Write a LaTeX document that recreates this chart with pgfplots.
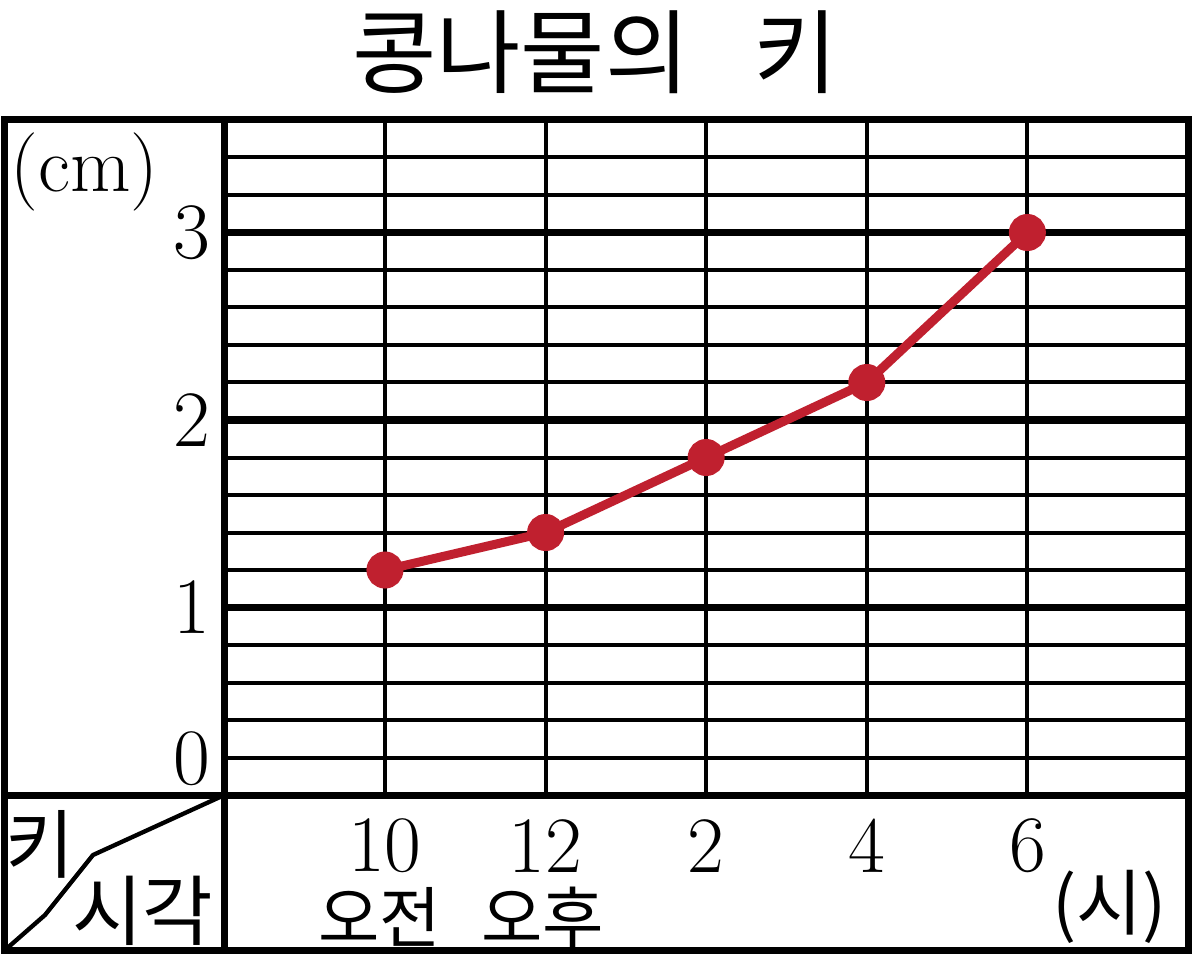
\documentclass[border=0pt]{standalone}
\usepackage{fontspec}
\usepackage{pgfplots}
\pgfplotsset{compat=1.18}
\newfontfamily\kr{Noto Sans CJK KR}
\definecolor{cred}{HTML}{C0202F}
\begin{document}
\begin{tikzpicture}
\begin{axis}[
  x=48.18pt, y=56.25pt,
  xmin=-1, xmax=5, ymin=0, ymax=3.6,
  clip=false,
  axis line style={line width=2.1pt},
  xtick={0,1,2,3,4},
  xticklabels={10,12,2,4,6},
  xmajorgrids,
  major x grid style={black, line width=1.2pt},
  ytick={1,2,3},
  yticklabels={1,2,3},
  ymajorgrids,
  major y grid style={black, line width=2.2pt},
  minor ytick={0.2,0.4,0.6,0.8,1.2,1.4,1.6,1.8,2.2,2.4,2.6,2.8,3.2,3.4},
  yminorgrids,
  minor y grid style={black, line width=1.2pt},
  extra y ticks={0.192},
  extra y tick labels={0},
  extra y tick style={grid=none},
  major tick length=0pt, minor tick length=0pt,
  tick label style={font=\fontsize{24}{26}\selectfont},
  yticklabel style={anchor=east, inner sep=0pt, xshift=-4pt},
  xticklabel style={anchor=center, inner sep=0pt, yshift=-15.3pt},
]
\addplot[color=cred, line width=2.7pt, mark=*, mark size=4.2pt,
  mark options={draw=none, fill=cred}]
  coordinates {(0,1.2) (1,1.4) (2,1.8) (3,2.2) (4,3)};

% frame and panels
\draw[line width=2.1pt] (axis cs:-2.366,-0.827) rectangle (axis cs:5,3.6);
\draw[line width=2.1pt] (axis cs:-2.366,0) -- (axis cs:5,0);
\draw[line width=2.1pt] (axis cs:-1,3.6) -- (axis cs:-1,-0.827);
\draw[line width=1.3pt, line join=round] (axis cs:-2.366,-0.827) -- (axis cs:-2.117,-0.640) -- (axis cs:-1.818,-0.32) -- (axis cs:-1,0);

% texts
\node[font=\kr\fontsize{27.5}{30}\selectfont] at (axis cs:1.3076,3.963) {콩나물의\hspace{0.7em}키};
\node[font=\fontsize{23.5}{26}\selectfont] at (axis cs:-1.871,3.323) {(cm)};
\node[font=\kr\fontsize{22.5}{24}\selectfont] at (axis cs:-2.148,-0.261) {키};
\node[font=\kr\fontsize{23}{25}\selectfont] at (axis cs:-1.507,-0.619) {시각};
\node[font=\kr\fontsize{20}{22}\selectfont] at (axis cs:-0.031,-0.651) {오전};
\node[font=\kr\fontsize{20}{22}\selectfont] at (axis cs:0.98,-0.651) {오후};
\node[font=\kr\fontsize{21.5}{23}\selectfont] at (axis cs:4.514,-0.597) {(시)};

\coordinate (bbl) at (axis cs:-2.397,-0.88);
\coordinate (btr) at (axis cs:5.025,4.24);
\end{axis}
\pgfresetboundingbox
\path[use as bounding box] (bbl) rectangle (btr);
\end{tikzpicture}
\end{document}
